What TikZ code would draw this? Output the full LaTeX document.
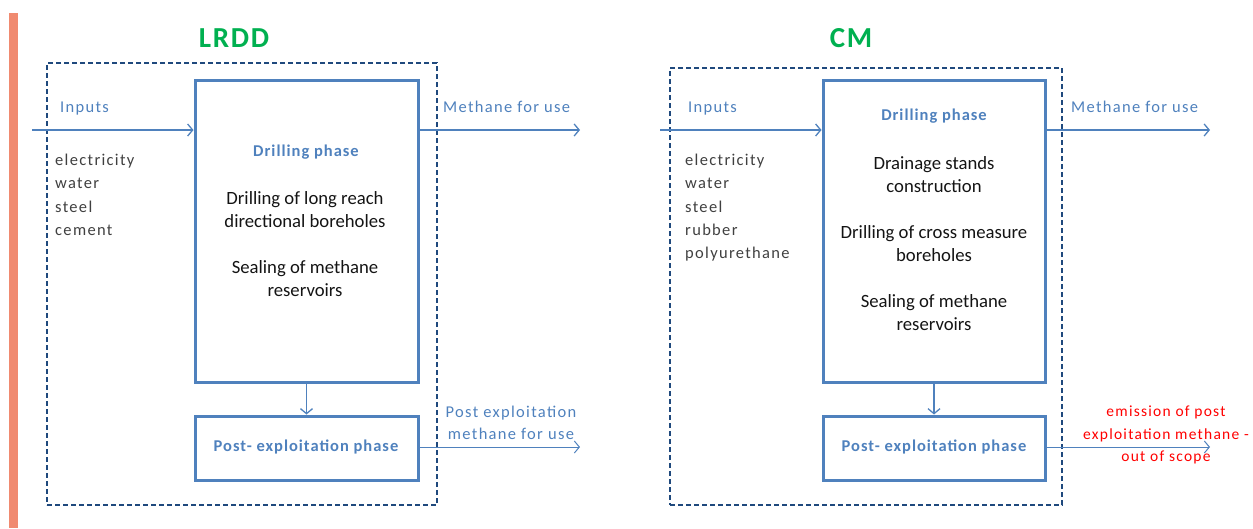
\documentclass[tikz,border=0pt]{standalone}
\usepackage{fontspec}
\setmainfont{Carlito}
\usetikzlibrary{arrows.meta}
\definecolor{obar}{RGB}{240,138,112}
\definecolor{oblue}{RGB}{79,129,189}
\definecolor{navy}{RGB}{31,73,125}
\definecolor{ogreen}{RGB}{0,176,80}
\definecolor{dgray}{RGB}{64,64,64}
\newfontfamily\spaced[LetterSpace=8]{Carlito}
\newfontfamily\spacedb[LetterSpace=6]{Carlito}
\tikzset{
  phase/.style={draw=oblue, line width=3pt, inner sep=0pt},
  scopebox/.style={draw=navy, line width=1.2pt, dash pattern=on 5pt off 3pt, inner sep=0pt},
  arr/.style={draw=oblue, line width=1.5pt, -{Straight Barb[length=5pt,width=12pt,line width=1.3pt]}},
  thinarr/.style={draw=oblue, line width=1pt, -{Straight Barb[length=5pt,width=12pt,line width=1pt]}},
  title/.style={text=ogreen, font=\spacedb\fontsize{29}{34}\selectfont\bfseries},
  lbl/.style={text=oblue, font=\spaced\fontsize{16.5}{22}\selectfont, align=center, inner sep=0pt},
  lst/.style={text=dgray, font=\spaced\fontsize{16.5}{23.2}\selectfont, align=left, anchor=north west, inner sep=0pt},
  body/.style={text=black!92, font=\fontsize{18.7}{23}\selectfont, align=center, inner sep=0pt},
  head/.style={text=oblue, font=\spacedb\fontsize{16.5}{22}\selectfont\bfseries, align=center, inner sep=0pt},
  red/.style={text=red, font=\spaced\fontsize{15.5}{22.5}\selectfont, align=center, inner sep=0pt},
}
\begin{document}
\begin{tikzpicture}[x=1pt,y=-1pt]
\useasboundingbox (0,0) rectangle (1253,528);
\fill[obar] (9,13) rectangle (18,528);

% ---------- LRDD ----------
\node[title] (t1) at (234,38) {LRDD};
\node[scopebox, minimum width=390pt, minimum height=442pt] (s1) at (242,284) {};
\node[phase, minimum width=223pt, minimum height=302pt] (d1) at (306.5,231) {};
\node[phase, minimum width=223pt, minimum height=64pt] (p1) at (306.5,448) {};
\node[head] (h1) at (306,152) {Drilling phase};
\node[body] (b1a) at (305,209.5) {Drilling of long reach\\directional boreholes};
\node[body] (b1b) at (305,279) {Sealing of methane\\reservoirs};
\node[head] (ph1) at (306,447) {Post- exploitation phase};
\node[lbl, anchor=west] (i1) at (60,109) {Inputs};
\node[lst] (l1) at (55,154) {electricity\\water\\steel\\cement};
\node[lbl, anchor=west] (m1) at (443,107) {Methane for use};
\node[lbl] (pm1) at (511,423) {Post exploitation\\methane for use};
\coordinate (in1) at (32,130);
\coordinate (mo1) at (580,130);
\coordinate (po1) at (580,447);
\draw[arr] (in1) -- (in1 -| d1.west);
\draw[arr] (d1.east |- mo1) -- (mo1);
\draw[arr] (d1.south) -- (p1.north);
\draw[thinarr] (p1.east |- po1) -- (po1);

% ---------- CM ----------
\node[title] (t2) at (851,38) {CM};
\node[scopebox, minimum width=392pt, minimum height=437pt] (s2) at (866,286.5) {};
\node[phase, minimum width=222pt, minimum height=302pt] (d2) at (934,231) {};
\node[phase, minimum width=222pt, minimum height=64pt] (p2) at (934,448) {};
\node[head] (h2) at (934,116) {Drilling phase};
\node[body] (b2a) at (934,175) {Drainage stands\\construction};
\node[body] (b2b) at (934,244) {Drilling of cross measure\\boreholes};
\node[body] (b2c) at (934,312.5) {Sealing of methane\\reservoirs};
\node[head] (ph2) at (934,447) {Post- exploitation phase};
\node[lbl, anchor=west] (i2) at (688,109) {Inputs};
\node[lst] (l2) at (685,154) {electricity\\water\\steel\\rubber\\polyurethane};
\node[lbl, anchor=west] (m2) at (1071,107) {Methane for use};
\node[red] (e2) at (1166,435) {emission of post\\exploitation methane -\\out of scope};
\coordinate (in2) at (660,130);
\coordinate (mo2) at (1210,130);
\coordinate (po2) at (1210,447);
\draw[arr] (in2) -- (in2 -| d2.west);
\draw[arr] (d2.east |- mo2) -- (mo2);
\draw[arr] (d2.south) -- (p2.north);
\draw[thinarr] (p2.east |- po2) -- (po2);
\end{tikzpicture}
\end{document}
